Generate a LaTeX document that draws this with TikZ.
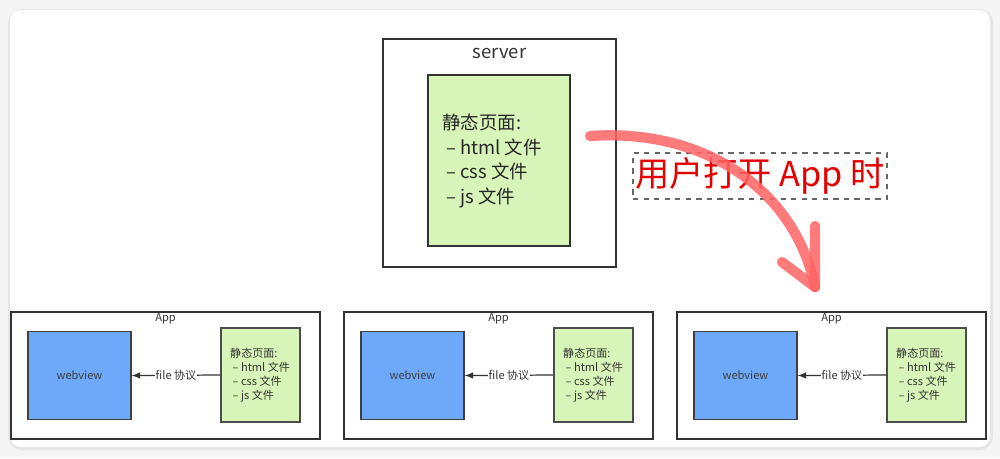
\documentclass[tikz,border=0pt]{standalone}
\usepackage{fontspec}
\setmainfont{Noto Sans CJK SC}
\begin{document}
\begin{tikzpicture}[x=0.02cm,y=-0.02cm,
  frame/.style={draw=black!80,line width=1.4pt},
  appframe/.style={draw=black!80,line width=0.9pt},
  greenbox/.style={draw=black!80,fill=green1,line width=1.2pt},
  greensmall/.style={draw=black!70,fill=green1,line width=0.7pt},
  bluebox/.style={draw=black!75,fill=blue1,line width=0.7pt},
  smalltxt/.style={font=\fontsize{6.3}{8}\selectfont,text=black!80},
  redarrow/.style={draw=red1,opacity=0.85,line width=5.8pt,line cap=round,line join=round}]
\definecolor{green1}{HTML}{D7F5B8}
\definecolor{blue1}{HTML}{6EA8F8}
\definecolor{red1}{HTML}{FF6464}
\useasboundingbox (0,0) rectangle (1000,458);
\fill[black!4] (0,0) rectangle (1000,458);
\fill[black!10,rounded corners=8] (8,9) rectangle (993,450);
\fill[white,rounded corners=6] (10,10) rectangle (990,447);
% server
\node[frame,minimum width=233*0.02cm,minimum height=228*0.02cm,inner sep=0] (server) at (499.5,153) {};
\node[font=\fontsize{10.5}{12}\selectfont,text=black!80] (srvlbl) at (499.5,53) {server};
\node[greenbox,minimum width=142*0.02cm,minimum height=171*0.02cm,inner sep=0] (sgreen) at (499,160.5) {};
\node[anchor=west,align=left,font=\fontsize{10.5}{14}\selectfont,text=black!85] (stxt) at (436,161)
 {静态页面:\\\ – html 文件\\\ – css 文件\\\ – js 文件};
% label
\node[draw=black!60,dashed,line width=0.6pt,minimum width=254*0.02cm,minimum height=46*0.02cm,inner sep=0,
  text=red!90!black,font=\fontsize{19.5}{22}\selectfont] (lbl) at (760,176) {用户打开 App 时};
% red arrow
\coordinate (ra) at (590,136);
\coordinate (rb) at (815,287);
\draw[redarrow] (ra) .. controls (705,128) and (795,190) .. (rb);
\draw[redarrow] (815,226) -- (rb) -- (782,262);
% apps
\foreach \i/\ox in {1/0,2/333,3/666}{
  \node[appframe,minimum width=309*0.02cm,minimum height=127*0.02cm,inner sep=0] (appbox\i) at (165.5+\ox,375.5) {};
  \node[smalltxt] (app\i) at (165.5+\ox,319) {App};
  \node[bluebox,minimum width=103*0.02cm,minimum height=88*0.02cm,inner sep=0,smalltxt,text=black!75] (wv\i) at (79.5+\ox,375.5) {webview};
  \node[greensmall,minimum width=79*0.02cm,minimum height=94*0.02cm,inner sep=0] (g\i) at (260.5+\ox,375) {};
  \node[smalltxt,anchor=west,align=left] (gt\i) at (224+\ox,375)
   {静态页面:\\\ – html 文件\\\ – css 文件\\\ – js 文件};
  \draw[-latex,line width=0.7pt,black!80] (g\i.west) -- node[fill=white,inner sep=0.5pt,smalltxt] {file 协议} (wv\i.east);
}
\end{tikzpicture}
\end{document}
